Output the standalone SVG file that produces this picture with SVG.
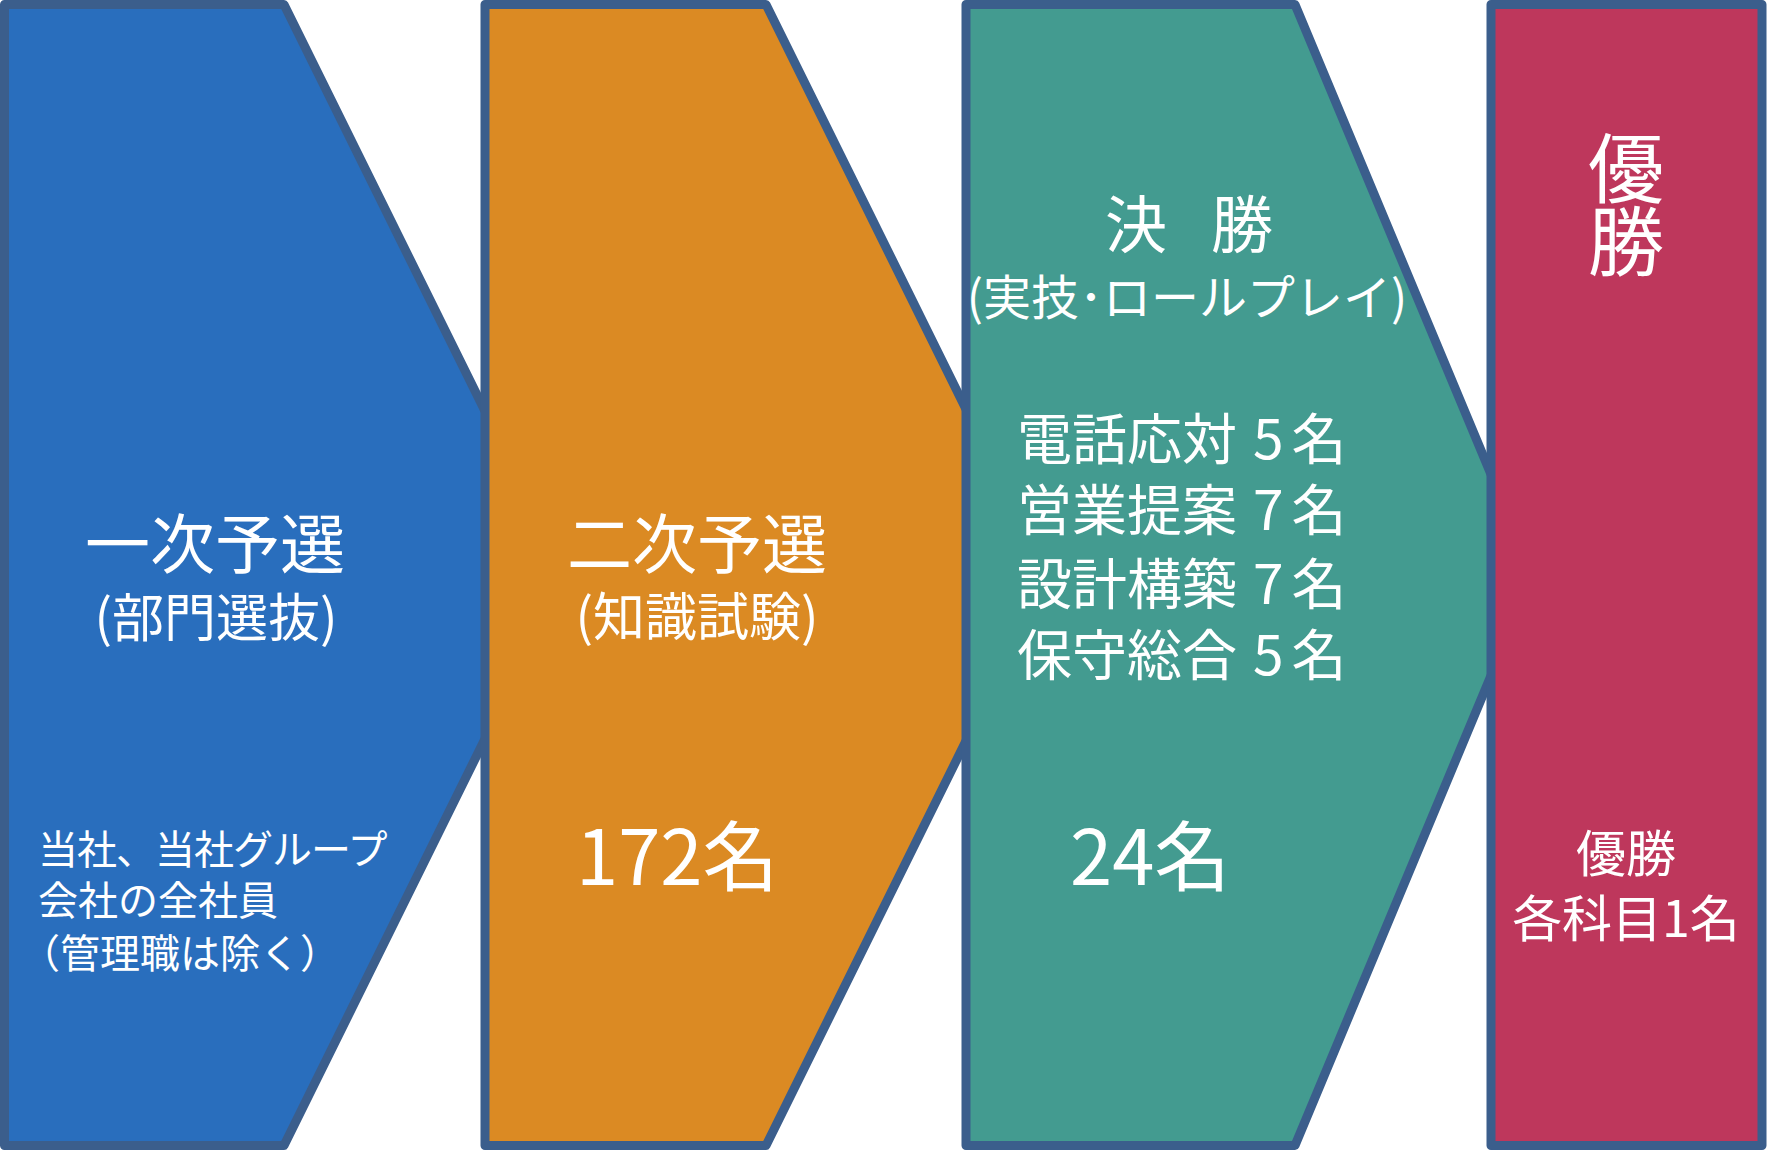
<svg xmlns="http://www.w3.org/2000/svg" width="1788" height="1150" viewBox="0 0 1788 1150">
  <style>
    .shape { stroke: #3B5E8C; stroke-width: 9; stroke-linejoin: round; }
    .t { font-family: "Noto Sans CJK JP", "Noto Sans", sans-serif; fill: #FFFFFF; }
    .mid { text-anchor: middle; }
  </style>
  <rect x="0" y="0" width="1788" height="1150" fill="#FFFFFF"/>
  <g id="node-stage1">
    <polygon class="shape" fill="#296EBD" points="4.5,4.5 284,4.5 566,575 284,1145.5 4.5,1145.5"/>
    <text class="t mid" x="215" y="568" font-size="65">一次予選</text>
    <text class="t mid" x="216" y="637" font-size="52">(部門選抜)</text>
    <text class="t" x="38" y="864" font-size="40" letter-spacing="-1">当社、当社グループ</text>
    <text class="t" x="38" y="915" font-size="40">会社の全社員</text>
    <text class="t" x="20" y="968" font-size="40">（管理職は除く）</text>
  </g>
  <g id="node-stage2">
    <polygon class="shape" fill="#DB8A23" points="485,4.5 766,4.5 1048,575 766,1145.5 485,1145.5"/>
    <text class="t mid" x="697" y="568" font-size="65">二次予選</text>
    <text class="t mid" x="697" y="636" font-size="52">(知識試験)</text>
    <text class="t" x="576" y="885" font-size="76">172名</text>
  </g>
  <g id="node-final">
    <polygon class="shape" fill="#439B90" points="966,4.5 1295,4.5 1533,575 1295,1145.5 966,1145.5"/>
    <text class="t" x="1105" y="248" font-size="62">決 <tspan x="1211">勝</tspan></text>
    <text class="t mid" x="1187" y="315" font-size="48">(実技･ロールプレイ)</text>
    <text class="t" x="1017" y="459" font-size="55">電話応対 <tspan x="1253" letter-spacing="8">5名</tspan></text>
    <text class="t" x="1017" y="530" font-size="55">営業提案 <tspan x="1253" letter-spacing="8">7名</tspan></text>
    <text class="t" x="1017" y="604" font-size="55">設計構築 <tspan x="1253" letter-spacing="8">7名</tspan></text>
    <text class="t" x="1017" y="675" font-size="55">保守総合 <tspan x="1253" letter-spacing="8">5名</tspan></text>
    <text class="t" x="1070" y="885" font-size="76">24名</text>
  </g>
  <g id="node-winner">
    <rect class="shape" fill="#BE375C" x="1491" y="4.5" width="271" height="1141"/>
    <text class="t mid" x="1626" y="197" font-size="76">優</text>
    <text class="t mid" x="1626" y="270" font-size="76">勝</text>
    <text class="t mid" x="1626" y="872" font-size="50">優勝</text>
    <text class="t mid" x="1626" y="937" font-size="50">各科目1名</text>
  </g>
  <g id="connectors"></g>
</svg>
